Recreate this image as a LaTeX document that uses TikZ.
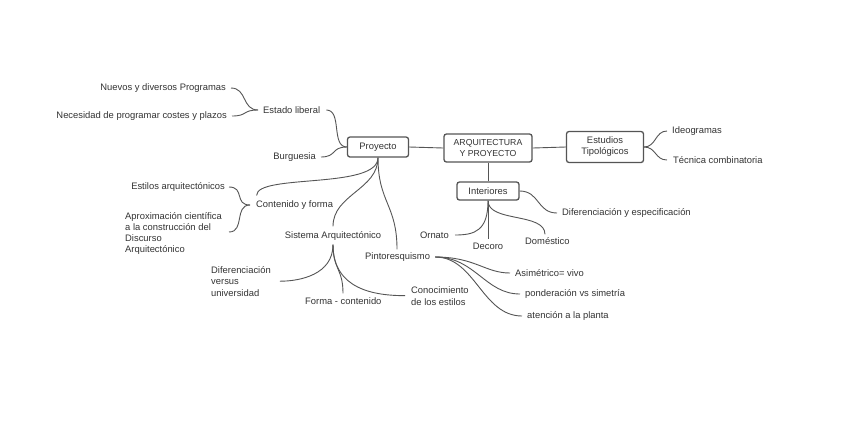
\documentclass[tikz,border=0pt]{standalone}
\usepackage{fontspec}
\setmainfont{Liberation Sans}
\begin{document}
\begin{tikzpicture}[x=1pt,y=-1pt,
  txt/.style={inner sep=0pt,text=txtc,font=\fontsize{9.4}{11}\selectfont},
  box/.style={draw=linec,line width=1.3pt,rounded corners=2.5pt,fill=white,text=txtc,
     font=\fontsize{9.4}{11}\selectfont,align=center,inner sep=1pt},
  conn/.style={draw=linec,line width=0.9pt}]
\definecolor{txtc}{HTML}{333333}
\definecolor{linec}{HTML}{555555}
\useasboundingbox[fill=white] (0,0) rectangle (848,424);
% boxes
\node[box,minimum width=61pt,minimum height=20pt] (proy) at (378,147) {Proyecto};
\node[box,minimum width=88pt,minimum height=28pt,font=\fontsize{8.7}{11}\selectfont] (arq) at (488,148) {ARQUITECTURA\\Y PROYECTO};
\node[box,minimum width=77pt,minimum height=31pt] (estu) at (605,147) {Estudios\\Tipológicos};
\node[box,minimum width=62pt,minimum height=18pt] (inter) at (488,191) {Interiores};
% texts
\node[txt,anchor=east] (nuevos) at (226,88) {Nuevos y diversos Programas};
\node[txt,anchor=east] (neces) at (227,116) {Necesidad de programar costes y plazos};
\node[txt,anchor=west] (estado) at (263,110) {Estado liberal};
\node[txt,anchor=east] (burg) at (316,157) {Burguesia};
\node[txt,anchor=west] (ideo) at (672,131) {Ideogramas};
\node[txt,anchor=west] (tecn) at (673,160) {Técnica combinatoria};
\node[txt,anchor=west] (cont) at (256,205) {Contenido y forma};
\node[txt,anchor=east] (estil) at (225,187) {Estilos arquitectónicos};
\node[txt,anchor=north west,align=left] (aprox) at (125,212) {Aproximación científica\\a la construcción del\\Discurso\\Arquitectónico};
\node[txt] (sist) at (333,236) {Sistema Arquitectónico};
\node[txt,anchor=west] (pint) at (365,257) {Pintoresquismo};
\node[txt,anchor=north west,align=left,font=\fontsize{9.4}{11.5}\selectfont] (difv) at (211,266) {Diferenciación\\versus\\universidad};
\node[txt,anchor=west] (forma) at (305,301) {Forma - contenido};
\node[txt,anchor=north west,align=left,font=\fontsize{9.4}{12}\selectfont] (conoc) at (411,286) {Conocimiento\\de los estilos};
\node[txt,anchor=west] (asim) at (515,273) {Asimétrico= vivo};
\node[txt,anchor=west] (pond) at (525,294) {ponderación vs simetría};
\node[txt,anchor=west] (aten) at (527,316) {atención a la planta};
\node[txt,anchor=east] (orn) at (449,235) {Ornato};
\node[txt] (dec) at (488,246) {Decoro};
\node[txt,anchor=west] (dom) at (525,241) {Doméstico};
\node[txt,anchor=west] (difesp) at (562,213) {Diferenciación y especificación};
% straight connectors
\draw[conn] (proy.east) -- (arq.west);
\draw[conn] (arq.east) -- (estu.west);
\draw[conn] (arq.south) -- (inter.north);
\draw[conn] (inter.south) -- ([yshift=4pt]dec.north);
% curves left
\draw[conn] ([xshift=5pt]nuevos.east) .. controls +(16,0) and +(-16,0) .. ([xshift=-5pt]estado.west);
\draw[conn] ([xshift=5pt]neces.east) .. controls +(16,0) and +(-16,0) .. ([xshift=-5pt]estado.west);
\draw[conn] ([xshift=6pt]estado.east) .. controls +(16,0) and +(-16,0) .. (proy.west);
\draw[conn] ([xshift=5pt]burg.east) .. controls +(16,0) and +(-16,0) .. (proy.west);
\draw[conn] ([xshift=4pt]estil.east) .. controls +(16,0) and +(-16,0) .. ([xshift=-6pt]cont.west);
\draw[conn] ([xshift=104pt,yshift=-20pt]aprox.north west) .. controls +(16,0) and +(-16,0) .. ([xshift=-6pt]cont.west);
% from Proyecto
\draw[conn] (proy.south) .. controls +(0,32) and +(0,-22) .. ([xshift=-38pt,yshift=5pt]cont.north);
\draw[conn] (proy.south) .. controls +(0,32) and +(0,-32) .. ([yshift=5pt]sist.north);
\draw[conn] (proy.south) .. controls +(0,45) and +(0,-45) .. ([xshift=32pt,yshift=3pt]pint.north west);
% Estudios
\draw[conn] (estu.east) .. controls +(12,0) and +(-12,0) .. ([xshift=-5pt]ideo.west);
\draw[conn] (estu.east) .. controls +(12,0) and +(-12,0) .. ([xshift=-6pt]tecn.west);
% Interiores
\draw[conn] (inter.east) .. controls +(20,0) and +(-20,0) .. ([xshift=-5pt]difesp.west);
\draw[conn] (inter.south) .. controls +(0,30) and +(20,0) .. ([xshift=6pt]orn.east);
\draw[conn] (inter.south) .. controls +(0,22) and +(0,-22) .. ([xshift=20pt,yshift=3pt]dom.north west);
% Sistema
\draw[conn] ([yshift=-4pt]sist.south) .. controls +(0,30) and +(20,0) .. ([xshift=9pt]difv.east);
\draw[conn] ([yshift=-4pt]sist.south) .. controls +(0,25) and +(0,-25) .. ([xshift=38pt,yshift=4pt]forma.north west);
\draw[conn] ([yshift=-4pt]sist.south) .. controls +(0,45) and +(-30,0) .. ([xshift=-6pt]conoc.west);
% Pintoresquismo
\draw[conn] ([xshift=5pt]pint.east) .. controls +(40,0) and +(-25,0) .. ([xshift=-5pt]asim.west);
\draw[conn] ([xshift=5pt]pint.east) .. controls +(40,0) and +(-35,0) .. ([xshift=-5pt]pond.west);
\draw[conn] ([xshift=5pt]pint.east) .. controls +(40,0) and +(-40,0) .. ([xshift=-5pt]aten.west);
\end{tikzpicture}
\end{document}
